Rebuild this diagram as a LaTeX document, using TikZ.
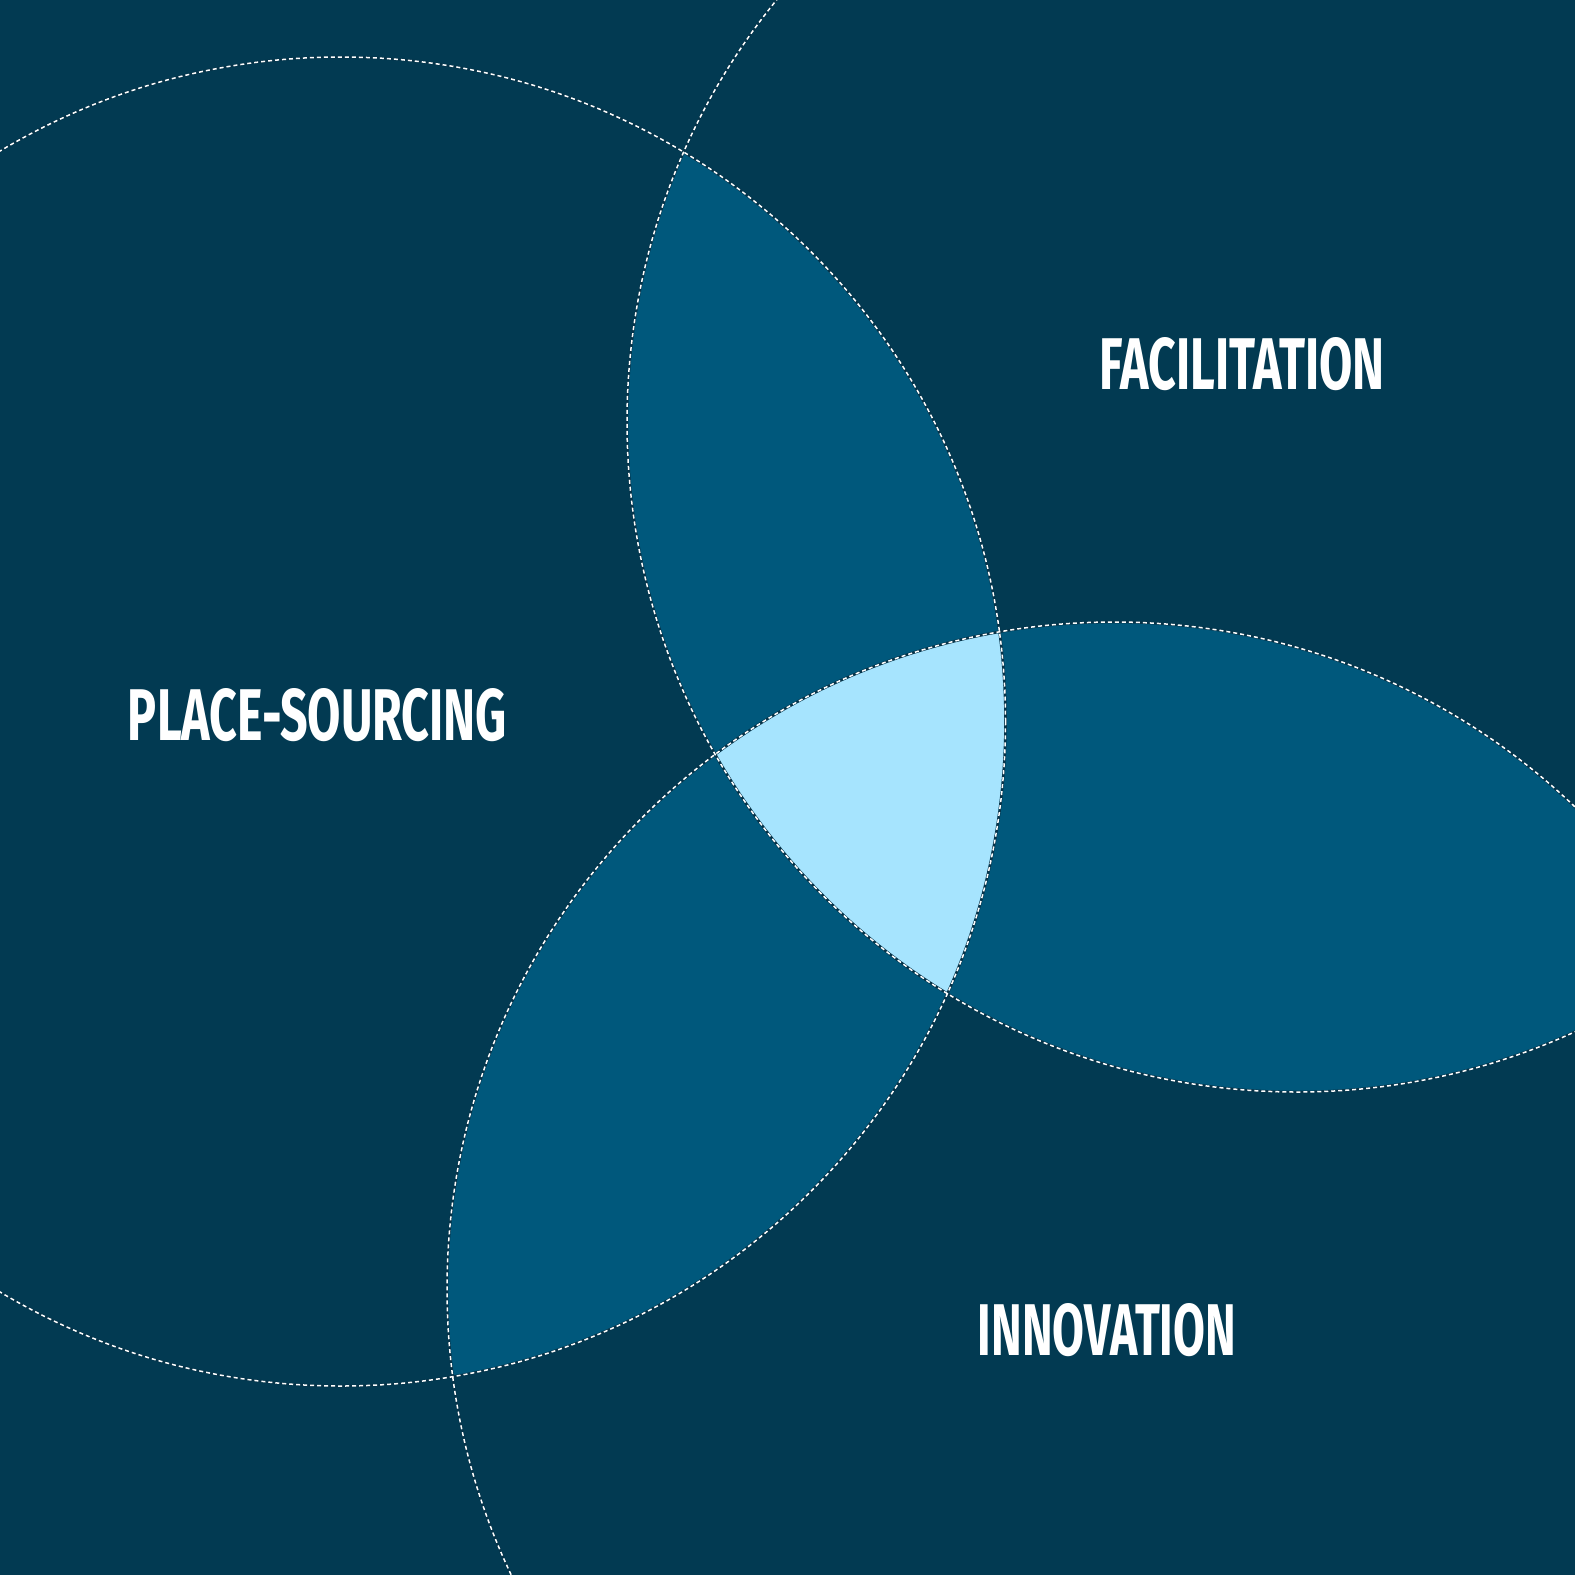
\documentclass[tikz,border=0pt]{standalone}
\usepackage{fontspec}
\setmainfont{Fira Sans}
\usepackage{graphicx}
\definecolor{navybg}{HTML}{023A52}
\definecolor{midblue}{HTML}{00587C}
\definecolor{paleblue}{HTML}{A6E4FE}
\definecolor{rimdark}{HTML}{06344A}
\newcommand{\radPS}{664.5pt}
\newcommand{\radFA}{670pt}
\newcommand{\radIN}{667pt}
\tikzset{
  rim/.style={draw=rimdark, line width=2.6pt},
  dashrim/.style={draw=white, line width=1.5pt, dash pattern=on 4pt off 3pt},
  label/.style={text=white, inner sep=0pt, font=\bfseries}
}
\begin{document}
\begin{tikzpicture}[x=1pt,y=-1pt]
\useasboundingbox (0,0) rectangle (1575,1575);
\fill[navybg] (0,0) rectangle (1575,1575);
\coordinate (pc) at (341,721.5);
\coordinate (fc) at (1297,422);
\coordinate (ic) at (1114,1289);
\begin{scope}
  \clip (0,0) rectangle (1575,1575);
  % pairwise overlaps
  \begin{scope}
    \clip (pc) circle[radius=\radPS];
    \fill[midblue] (fc) circle[radius=\radFA];
    \fill[midblue] (ic) circle[radius=\radIN];
  \end{scope}
  \begin{scope}
    \clip (fc) circle[radius=\radFA];
    \fill[midblue] (ic) circle[radius=\radIN];
  \end{scope}
  % triple overlap
  \begin{scope}
    \clip (pc) circle[radius=\radPS];
    \clip (fc) circle[radius=\radFA];
    \fill[paleblue] (ic) circle[radius=\radIN];
  \end{scope}
  % outlines
  \path[rim] (pc) circle[radius=\radPS];
  \path[rim] (fc) circle[radius=\radFA];
  \path[rim] (ic) circle[radius=\radIN];
  \path[dashrim] (pc) circle[radius=\radPS];
  \path[dashrim] (fc) circle[radius=\radFA];
  \path[dashrim] (ic) circle[radius=\radIN];
\end{scope}
\node[label] (placesourcing) at (317.5,715) {\resizebox{379pt}{52pt}{PLACE-SOURCING}};
\node[label] (facilitation) at (1242,364) {\resizebox{285pt}{52pt}{FACILITATION}};
\node[label] (innovation) at (1107,1330) {\resizebox{258pt}{52pt}{INNOVATION}};
\end{tikzpicture}
\end{document}
